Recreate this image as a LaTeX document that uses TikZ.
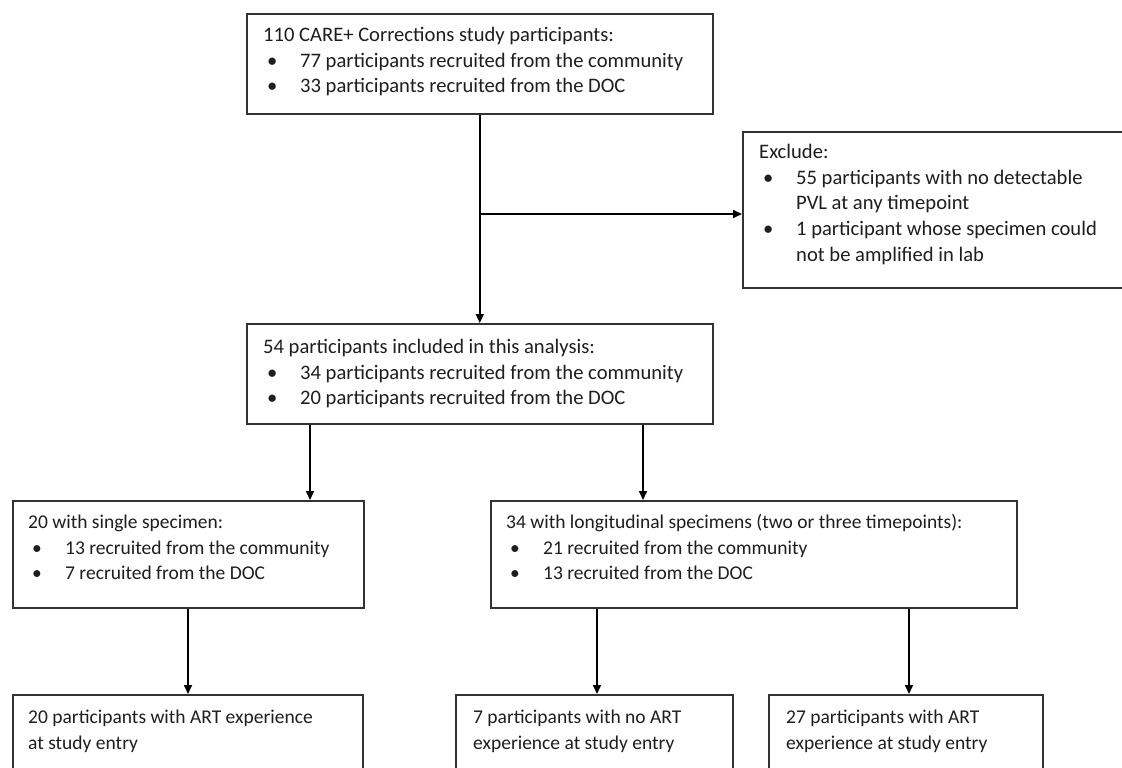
\documentclass[tikz,border=0pt]{standalone}
\usepackage{fontspec}
\setmainfont{Carlito}
\usetikzlibrary{arrows.meta}
\definecolor{boxline}{HTML}{333333}
\definecolor{txtcol}{HTML}{1E1E1E}
\tikzset{
  box/.style={draw=boxline, line width=1.6pt, rectangle, inner sep=0pt, anchor=north west},
  txt/.style={inner sep=0pt, anchor=base west, text=txtcol, font=\fontsize{19.5}{25.7}\selectfont},
  txtbig/.style={txt, font=\fontsize{20.6}{25.7}\selectfont},
  arr/.style={draw=black, line width=1.6pt, -{Triangle[length=9pt,width=8pt]}}
}
\newcommand{\bul}{\hspace*{4pt}\makebox[33pt][l]{\textbullet}}
\newcommand{\bulind}{\hspace*{37pt}}
\begin{document}
\begin{tikzpicture}[x=1pt,y=-1pt]
\useasboundingbox (0,0) rectangle (1122,768);
\clip (0,0) rectangle (1122,768);
\fill[white] (0,0) rectangle (1122,768);
% boxes
\node[box, minimum width=466pt, minimum height=100pt] (top) at (246,13) {};
\node[box, minimum width=400pt, minimum height=156pt] (excl) at (742,131) {};
\node[box, minimum width=466pt, minimum height=100pt] (mid) at (246,323) {};
\node[box, minimum width=351pt, minimum height=107pt] (left) at (12,500) {};
\node[box, minimum width=526pt, minimum height=107pt] (right) at (490,500) {};
\node[box, minimum width=350pt, minimum height=90pt] (b1) at (12,694) {};
\node[box, minimum width=277pt, minimum height=90pt] (b2) at (455,694) {};
\node[box, minimum width=274pt, minimum height=90pt] (b3) at (768,694) {};
% texts
\node[txtbig] (topT) at (263,41.5) {\parbox[t]{440pt}{110 CARE+ Corrections study participants:\\
\bul 77 participants recruited from the community\\
\bul 33 participants recruited from the DOC}};
\node[txtbig] (exclT) at (759,158.5) {\parbox[t]{370pt}{Exclude:\\
\bul 55 participants with no detectable\\
\bulind PVL at any timepoint\\
\bul 1 participant whose specimen could\\
\bulind not be amplified in lab}};
\node[txtbig] (midT) at (263,353.5) {\parbox[t]{440pt}{54 participants included in this analysis:\\
\bul 34 participants recruited from the community\\
\bul 20 participants recruited from the DOC}};
\node[txt] (leftT) at (28,528.5) {\parbox[t]{330pt}{20 with single specimen:\\
\bul 13 recruited from the community\\
\bul 7 recruited from the DOC}};
\node[txt] (rightT) at (506,528.5) {\parbox[t]{505pt}{34 with longitudinal specimens (two or three timepoints):\\
\bul 21 recruited from the community\\
\bul 13 recruited from the DOC}};
\node[txt] (b1T) at (28,723.5) {\parbox[t]{330pt}{20 participants with ART experience\\
at study entry}};
\node[txt] (b2T) at (473,723.5) {\parbox[t]{260pt}{7 participants with no ART\\
experience at study entry}};
\node[txt] (b3T) at (786,723.5) {\parbox[t]{260pt}{27 participants with ART\\
experience at study entry}};
% connectors
\coordinate (j) at (top.south |- 0,214);
\draw[arr] (top.south) -- (mid.north);
\draw[arr] (j) -- (j -| excl.west);
\draw[arr] (mid.south -| 310,0) -- (310,0 |- left.north);
\draw[arr] (mid.south -| 643,0) -- (643,0 |- right.north);
\draw[arr] (left.south -| 188,0) -- (188,0 |- b1.north);
\draw[arr] (right.south -| 597,0) -- (597,0 |- b2.north);
\draw[arr] (right.south -| 909,0) -- (909,0 |- b3.north);
\end{tikzpicture}
\end{document}
